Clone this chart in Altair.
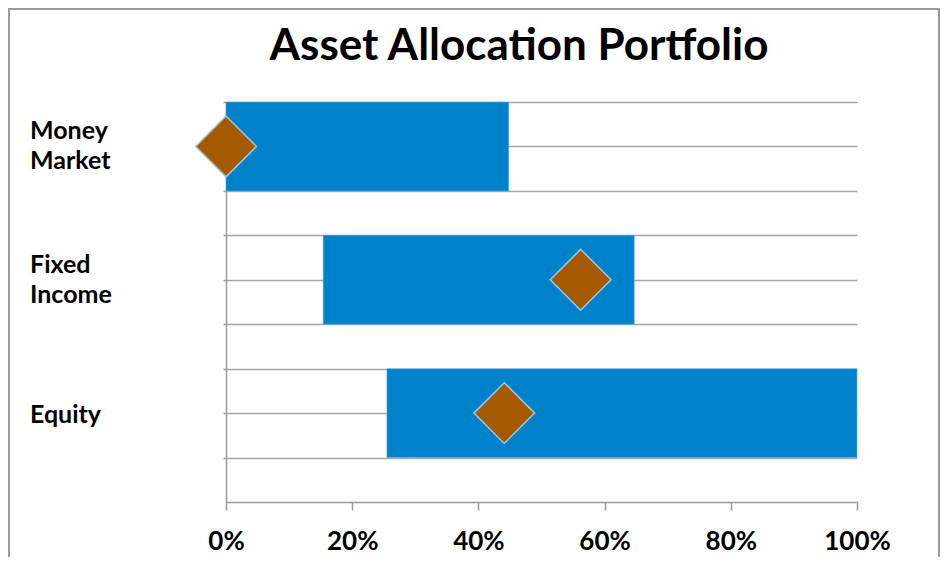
import altair as alt
import pandas as pd

# Data
categories = ["Money Market", "Fixed Income", "Equity"]
range_low = [0.0, 0.154, 0.255]
range_high = [0.448, 0.647, 1.0]
current = [0.0, 0.562, 0.441]
title_text = "Asset Allocation Portfolio"

n = len(categories)
pos = [3 * (n - 1 - i) + 2 for i in range(n)]  # band centre in grid units

df = pd.DataFrame({
    "category": categories,
    "low": range_low,
    "high": range_high,
    "current": current,
    "pos": pos,
})
df["top"] = df["pos"] + 1
df["bottom"] = df["pos"] - 1

FONT = "Lato"

yscale = alt.Scale(domain=[0, 9], nice=False, zero=False)
xscale = alt.Scale(domain=[0, 1], nice=False)

base = alt.Chart(df)

bars = base.mark_bar(color="#0082CB", stroke="#5fb0e0", strokeWidth=0.5).encode(
    x=alt.X("low:Q", scale=xscale,
            axis=alt.Axis(values=[0, 0.2, 0.4, 0.6, 0.8, 1.0], format=".0%",
                          title=None, grid=False, tickSize=8, tickColor="#9a9a9a",
                          domainColor="#9a9a9a", domainWidth=1.5, tickWidth=1.5,
                          labelFont=FONT, labelFontSize=26, labelFontWeight="bold",
                          labelColor="#000000", labelPadding=18, labelFlush=False,
                          labelOverlap=False)),
    x2="high:Q",
    y=alt.Y("top:Q", scale=yscale,
            axis=alt.Axis(values=list(range(1, 10)), labels=False, title=None,
                          grid=True, gridColor="#a6a6a6", gridWidth=1.5,
                          tickSize=3, tickColor="#9a9a9a", tickWidth=1.5,
                          domainColor="#9a9a9a", domainWidth=1.5)),
    y2="bottom:Q",
)

diamonds = base.mark_point(shape="diamond", filled=True, size=3700,
                           fill="#A65A00", stroke="#9cc8e8", strokeWidth=1.5,
                           opacity=1).encode(
    x=alt.X("current:Q", scale=xscale),
    y=alt.Y("pos:Q", scale=yscale),
)

label_style = dict(align="left", baseline="middle", font=FONT, fontSize=25,
                   fontWeight="bold", color="#000000", lineBreak=" ",
                   lineHeight=30)

labels_two = base.transform_filter(
    "indexof(datum.category, ' ') >= 0"
).mark_text(dy=-15, **label_style).encode(
    x=alt.value(-196),
    y=alt.Y("pos:Q", scale=yscale),
    text="category:N",
)

labels_one = base.transform_filter(
    "indexof(datum.category, ' ') < 0"
).mark_text(dy=2, **label_style).encode(
    x=alt.value(-196),
    y=alt.Y("pos:Q", scale=yscale),
    text="category:N",
)

title = alt.Chart(pd.DataFrame({"t": [title_text]})).mark_text(
    align="center", baseline="alphabetic", font=FONT, fontSize=44,
    fontWeight="bold", color="#000000").encode(
    x=alt.value(293), y=alt.value(-42), text="t:N"
)

frame = alt.Chart(pd.DataFrame({"f": [0]})).mark_rect(
    fill=None, filled=False, stroke="#9a9a9a", strokeWidth=2).encode(
    x=alt.value(-217), x2=alt.value(713), y=alt.value(-93), y2=alt.value(480)
)

chart = alt.layer(frame, bars, diamonds, labels_two, labels_one, title).properties(
    width=631,
    height=400,
    padding={"left": 218, "top": 94, "right": 84, "bottom": 55},
    autosize="none",
    background="white",
).configure_view(stroke=None)

chart.save("out.html", embed_options={"renderer": "svg", "actions": False})
